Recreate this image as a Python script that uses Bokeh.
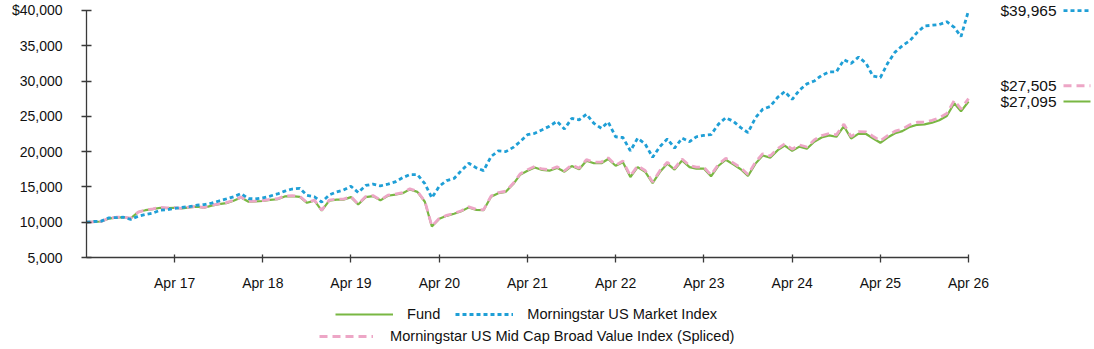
import pandas as pd
from bokeh.plotting import figure
from bokeh.layouts import column
from bokeh.models import (Range1d, FixedTicker, DatetimeTickFormatter,
                          CustomJSTickFormatter, Legend, LegendItem)
from bokeh.core.properties import value
from bokeh.embed import file_html
from bokeh.resources import INLINE

# ---- data: growth of a $10,000 investment, month by month ----
months = pd.date_range("2016-04-01", periods=121, freq="MS")

fund = [
    10000, 10050, 10100, 10500, 10650, 10700, 10550, 11450, 11700, 11850, 12050, 12000,
    12050, 11950, 12100, 12200, 12050, 12350, 12550, 12700, 13050, 13500, 12900, 12950,
    13000, 13150, 13250, 13650, 13700, 13600, 12750, 13050, 11650, 13050, 13200, 13200,
    13550, 12500, 13550, 13700, 13100, 13750, 13900, 14100, 14650, 14300, 12900, 9400,
    10500, 10900, 11200, 11550, 12100, 11750, 11700, 13600, 14100, 14300, 15400, 16700,
    17300, 17750, 17400, 17300, 17700, 17150, 17950, 17500, 18700, 18350, 18350, 18950,
    18000, 18500, 16400, 17800, 17150, 15550, 17100, 18300, 17450, 18750, 17800, 17600,
    17600, 16500, 18000, 18850, 18200, 17500, 16550, 18300, 19450, 19150, 20200, 20850,
    20100, 20700, 20400, 21400, 22000, 22300, 22100, 23600, 21850, 22550, 22500, 21900,
    21250, 22000, 22600, 22900, 23500, 23800, 23850, 24100, 24450, 25050, 26850, 25700,
    27095,
]

market = [
    10000, 10100, 10150, 10600, 10650, 10700, 10400, 10850, 11100, 11300, 11700, 11750,
    11950, 12100, 12200, 12400, 12500, 12700, 13000, 13300, 13600, 14050, 13350, 13300,
    13450, 13700, 14000, 14400, 14700, 14800, 13800, 13600, 12850, 13850, 14300, 14550,
    15100, 14200, 15200, 15400, 15150, 15400, 15700, 16300, 16750, 16750, 15450, 13450,
    15100, 15900, 16200, 17300, 18350, 17700, 17300, 19300, 20100, 20000, 20600, 21400,
    22400, 22600, 23100, 23600, 24300, 23200, 24700, 24500, 25300, 24000, 23300, 24200,
    22100, 22000, 20100, 21900, 21100, 19200, 20700, 21800, 20500, 21900, 21400, 22100,
    22300, 22400, 23900, 24800, 24300, 23400, 22700, 24800, 26000, 26400, 27700, 28500,
    27400, 28700, 29600, 30000, 30800, 31300, 31300, 33000, 32500, 33400, 32500, 30700,
    30500, 32500, 34100, 35000, 35700, 36900, 37800, 37900, 38000, 38400, 37600, 36300,
    39965,
]

midcap = [
    10000, 10060, 10120, 10540, 10700, 10720, 10560, 11430, 11720, 11900, 12100, 12020,
    12080, 11960, 12150, 12250, 12080, 12400, 12600, 12780, 13120, 13560, 12950, 13000,
    13050, 13230, 13320, 13720, 13760, 13660, 12800, 13120, 11700, 13120, 13280, 13270,
    13630, 12560, 13630, 13780, 13160, 13830, 13980, 14180, 14740, 14380, 12960, 9450,
    10560, 10960, 11270, 11620, 12180, 11820, 11760, 13700, 14200, 14390, 15510, 16830,
    17440, 17900, 17540, 17430, 17850, 17290, 18100, 17650, 18870, 18520, 18520, 19120,
    18080, 18680, 16560, 17980, 17330, 15700, 17290, 18500, 17640, 18950, 18000, 17800,
    17800, 16690, 18200, 19060, 18410, 17700, 16750, 18520, 19690, 19380, 20440, 21100,
    20340, 20950, 20650, 21660, 22270, 22570, 22370, 23900, 22120, 22840, 22790, 22180,
    21520, 22280, 22890, 23200, 23810, 24160, 24170, 24430, 24790, 25400, 27250, 26060,
    27505,
]

series_names = ["Fund", "Morningstar US Market Index",
                "Morningstar US Mid Cap Broad Value Index (Spliced)"]
y_ticks = [5000, 10000, 15000, 20000, 25000, 30000, 35000, 40000]
x_tick_months = list(months[12::12])

# ---- styling ----
FONT = "Liberation Sans"
GREEN = "#79b743"
BLUE = "#1f9fd6"
PINK = "#eda6c6"
AXIS = "#3a3a3a"
STYLES = [
    dict(line_color=GREEN, line_width=2.2),
    dict(line_color=BLUE, line_width=2.8, line_dash="4 3"),
    dict(line_color=PINK, line_width=2.8, line_dash="8 5"),
]

W = 1094
CHART_H, LEGEND_H = 293, 56
LEFT, BOTTOM = 86, 34
TOP_PAD = 10            # pixels of headroom above the $40,000 line
FRAME_W = W - LEFT
DATA_W = 882            # pixels spanned by the ten years of data
FRAME_H = CHART_H - BOTTOM

Y_LO, Y_HI = 5000, 40000
v_per_px = (Y_HI - Y_LO) / (FRAME_H - TOP_PAD)
y_top = Y_HI + TOP_PAD * v_per_px
span = months[-1] - months[0]
x_end = months[0] + span * (FRAME_W / DATA_W)   # room on the right for end labels
t_per_px = span / DATA_W

p = figure(width=W, height=CHART_H, output_backend="svg", toolbar_location=None,
           x_axis_type="datetime",
           x_range=Range1d(months[0], x_end), y_range=Range1d(Y_LO, y_top),
           min_border_left=LEFT, min_border_right=0,
           min_border_top=0, min_border_bottom=BOTTOM)
p.outline_line_color = None
p.grid.visible = False
p.background_fill_color = "white"
p.border_fill_color = "white"

# ---- lines ----
p.line(months, fund, **STYLES[0])
p.line(months, midcap, **STYLES[2])
p.line(months, market, **STYLES[1])

# ---- axes ----
for ax in (p.xaxis[0], p.yaxis[0]):
    ax.axis_line_color = AXIS
    ax.axis_line_width = 1.3
    ax.major_tick_line_color = AXIS
    ax.major_tick_line_width = 1.3
    ax.minor_tick_line_color = None
    ax.major_label_text_font = FONT
    ax.major_label_text_font_size = "14px"
    ax.major_label_text_color = "#111111"

p.yaxis.ticker = FixedTicker(ticks=y_ticks)
p.yaxis.formatter = CustomJSTickFormatter(code="""
    const s = String(Math.round(tick)).replace(/\\B(?=(\\d{3})+(?!\\d))/g, ",");
    return (tick >= 40000 ? "$" : "") + s;
""")
p.yaxis.bounds = (Y_LO, Y_HI)
p.yaxis.major_tick_in = 5
p.yaxis.major_tick_out = 5
p.yaxis.major_label_standoff = 19

p.xaxis.ticker = FixedTicker(ticks=[t.value // 10**6 for t in x_tick_months])
fmt = "%b %y"
p.xaxis.formatter = DatetimeTickFormatter(days=fmt, months=fmt, years=fmt)
p.xaxis.bounds = (months[0], months[-1])
p.xaxis.major_tick_in = 3
p.xaxis.major_tick_out = 5
p.xaxis.major_label_standoff = 12

# ---- end-of-period value labels with line samples ----
last = months[-1]
ends = [
    (market[-1], STYLES[1], 0),
    (midcap[-1], STYLES[2], 13),
    (fund[-1], STYLES[0], 0),
]
for val, style, lift in ends:
    ly = val + lift * v_per_px
    p.text(x=[last], y=[ly], text=[f"${val:,.0f}"], x_offset=32,
           text_font=value(FONT), text_font_size="15.5px", text_color="#111111",
           text_align="left", text_baseline="middle")
    p.segment(x0=[last + t_per_px * 95], y0=[ly], x1=[last + t_per_px * 122], y1=[ly],
              **style)

# ---- legend strip: two centred rows under the chart ----
leg_fig = figure(width=W, height=LEGEND_H, output_backend="svg", toolbar_location=None,
                 x_range=Range1d(0, 1), y_range=Range1d(0, 1),
                 min_border=0, x_axis_location=None, y_axis_location=None)
leg_fig.outline_line_color = None
leg_fig.grid.visible = False
leg_fig.border_fill_color = "white"
# key renderers sit outside the strip's visible range; only their legend swatches show
keys = [leg_fig.line([2, 3], [2, 3], **s) for s in STYLES]


def make_legend(items, loc, glyph_w, standoff):
    lg = Legend(items=items, orientation="horizontal", location=loc)
    lg.border_line_color = None
    lg.background_fill_alpha = 0
    lg.padding = 0
    lg.margin = 0
    lg.spacing = 15
    lg.glyph_width = glyph_w
    lg.glyph_height = 20
    lg.label_height = 20
    lg.label_standoff = standoff
    lg.label_text_font = FONT
    lg.label_text_font_size = "14.6px"
    lg.label_text_color = "#111111"
    return lg


# the strip's frame lines up with the chart frame, which starts LEFT px in
leg_fig.add_layout(make_legend(
    [LegendItem(label=series_names[0], renderers=[keys[0]]),
     LegendItem(label=series_names[1], renderers=[keys[1]])], (335 - LEFT, 25), 58, 14))
leg_fig.add_layout(make_legend(
    [LegendItem(label=series_names[2], renderers=[keys[2]])], (319 - LEFT, 3), 54, 17))

layout = column(p, leg_fig, spacing=0)
open("out.html", "w").write(file_html(layout, INLINE))
